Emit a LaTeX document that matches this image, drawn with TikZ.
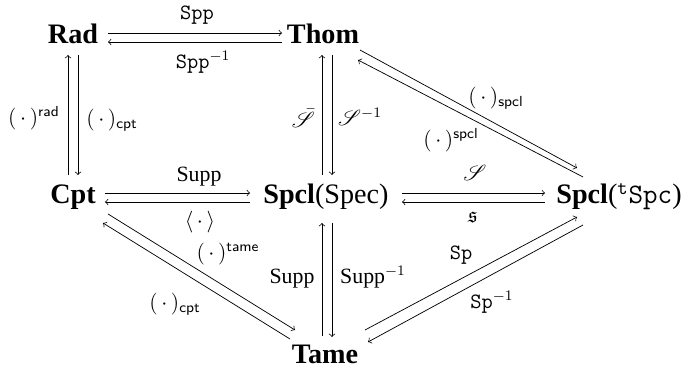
\documentclass[tikz,border=0pt]{standalone}
\usepackage{amssymb}
\usepackage{mathrsfs}
\usepackage{fontspec}
\setmainfont{Liberation Serif}
\begin{document}
\begin{tikzpicture}[x=0.55pt,y=-0.55pt,
  obj/.style={anchor=base,font=\fontsize{15.5}{18}\selectfont\bfseries,inner sep=0pt},
  lab/.style={inner sep=0pt,font=\fontsize{12}{14}\selectfont},
  arr/.style={->,line width=0.4pt}]
\useasboundingbox (0,0) rectangle (686,368);
% objects
\node[obj] (rad)  at (73,44)  {Rad};
\node[obj] (thom) at (323,44) {Thom};
\node[obj] (cpt)  at (73,204) {Cpt};
\node[obj] (spec) at (326,204) {Spcl\textnormal{(Spec)}};
\node[obj] (tspc) at (619,204) {Spcl\textnormal{(}$^{\mathtt{t}}\mathtt{Spc}$\textnormal{)}};
\node[obj] (tame) at (325,364) {Tame};
% arrows
\draw[arr] ([shift={(35,-11)}]rad.base) -- ([shift={(-41,-11)}]thom.base);
\draw[arr] ([shift={(-41,-2)}]thom.base) -- ([shift={(35,-2)}]rad.base);
\draw[arr] ([shift={(-5,-29)}]cpt.base) -- ([shift={(-5,11)}]rad.base);
\draw[arr] ([shift={(5,11)}]rad.base) -- ([shift={(5,-29)}]cpt.base);
\draw[arr] ([shift={(-4,-29)}]spec.base) -- ([shift={(-1,11)}]thom.base);
\draw[arr] ([shift={(9,11)}]thom.base) -- ([shift={(6,-29)}]spec.base);
\draw[arr] ([shift={(32,-11)}]cpt.base) -- ([shift={(-76,-11)}]spec.base);
\draw[arr] ([shift={(-76,-2)}]spec.base) -- ([shift={(32,-2)}]cpt.base);
\draw[arr] ([shift={(76,-11)}]spec.base) -- ([shift={(-74,-11)}]tspc.base);
\draw[arr] ([shift={(-74,-2)}]tspc.base) -- ([shift={(76,-2)}]spec.base);
\draw[arr] ([shift={(37,6)}]thom.base) -- ([shift={(-42,-36)}]tspc.base);
\draw[arr] ([shift={(-36,-27)}]tspc.base) -- ([shift={(35,16)}]thom.base);
\draw[arr] ([shift={(35,10)}]cpt.base) -- ([shift={(-30,-34)}]tame.base);
\draw[arr] ([shift={(-35,-25)}]tame.base) -- ([shift={(30,19)}]cpt.base);
\draw[arr] ([shift={(40,-34)}]tame.base) -- ([shift={(-42,13)}]tspc.base);
\draw[arr] ([shift={(-36,21)}]tspc.base) -- ([shift={(43,-22)}]tame.base);
\draw[arr] ([shift={(-3,-28)}]tame.base) -- ([shift={(-4,19)}]spec.base);
\draw[arr] ([shift={(6,19)}]spec.base) -- ([shift={(7,-27)}]tame.base);
% labels
\node[lab] (l1)  at (197,15)  {\texttt{Spp}};
\node[lab] (l2)  at (203,62)  {$\mathtt{Spp}^{-1}$};
\node[lab] (l3)  at (34,118)  {$(\,\cdot\,)^{\mathsf{rad}}$};
\node[lab] (l4)  at (112,120) {$(\,\cdot\,)_{\mathsf{cpt}}$};
\node[lab] (l5)  at (301,118) {$\bar{\mathscr{S}}\mkern-4mu$};
\node[lab] (l6)  at (360,117) {$\mathscr{S}^{-1}$};
\node[lab] (l7)  at (496,98)  {$(\,\cdot\,)_{\mathsf{spcl}}$};
\node[lab] (l8)  at (451,140) {$(\,\cdot\,)^{\mathsf{spcl}}$};
\node[lab] (l9)  at (199,177) {Supp};
\node[lab] (l10) at (200,222) {$\langle\,\cdot\,\rangle$};
\node[lab] (l11) at (475,173) {$\mathscr{S}$};
\node[lab] (l12) at (473,217) {$\mathfrak{s}$};
\node[lab] (l13) at (228,254) {$(\,\cdot\,)^{\mathsf{tame}}$};
\node[lab] (l14) at (175,304) {$(\,\cdot\,)_{\mathsf{cpt}}$};
\node[lab] (l15) at (292,279) {Supp};
\node[lab] (l16) at (373,277) {Supp$^{-1}$};
\node[lab] (l17) at (461,255) {\texttt{Sp}};
\node[lab] (l18) at (492,302) {$\mathtt{Sp}^{-1}$};
\end{tikzpicture}
\end{document}
